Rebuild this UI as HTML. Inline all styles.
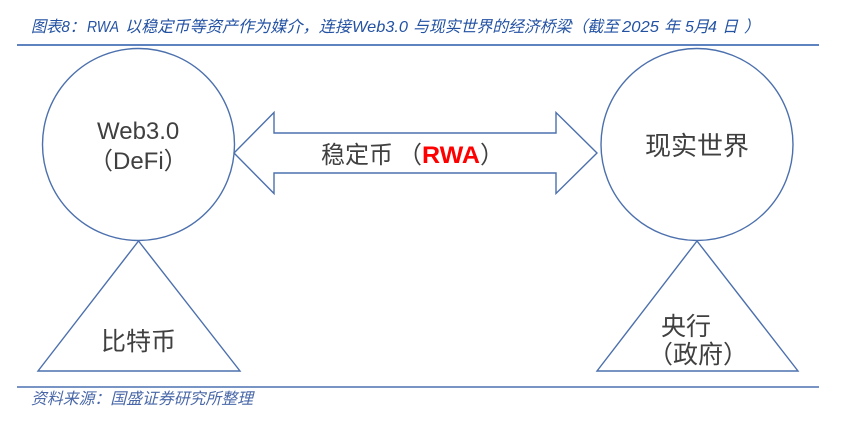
<!DOCTYPE html>
<html>
<head>
<meta charset="utf-8">
<style>
  html,body{margin:0;padding:0;background:#fff;}
  svg{display:block;}
  .hd{font-family:"Liberation Sans","Noto Sans CJK SC",sans-serif;font-style:italic;font-size:16px;fill:#2352a3;}
  .ft{font-family:"Liberation Sans","Noto Sans CJK SC",sans-serif;font-style:italic;font-size:16px;fill:#4a68a8;}
  .dg{font-family:"Liberation Sans","Noto Sans CJK SC",sans-serif;font-size:24px;fill:#404040;}
</style>
</head>
<body>
<svg width="865" height="423" viewBox="0 0 865 423" xmlns="http://www.w3.org/2000/svg">
  <rect width="865" height="423" fill="#fff"/>

  <!-- Header -->
  <text class="hd" x="31" y="32" textLength="54" lengthAdjust="spacingAndGlyphs">图表8：</text>
  <text class="hd" x="87" y="32" textLength="32" lengthAdjust="spacingAndGlyphs">RWA</text>
  <text class="hd" x="125" y="32" textLength="226" lengthAdjust="spacingAndGlyphs">以稳定币等资产作为媒介，连接</text>
  <text class="hd" x="352" y="32" textLength="56" lengthAdjust="spacingAndGlyphs">Web3.0</text>
  <text class="hd" x="413" y="32" textLength="206" lengthAdjust="spacingAndGlyphs">与现实世界的经济桥梁（截至</text>
  <text class="hd" x="622" y="32" textLength="37" lengthAdjust="spacingAndGlyphs">2025</text>
  <text class="hd" x="664" y="32">年</text>
  <text class="hd" x="685" y="32">5</text>
  <text class="hd" x="693" y="32">月</text>
  <text class="hd" x="708" y="32">4</text>
  <text class="hd" x="722" y="32">日</text>
  <text class="hd" x="744" y="32">）</text>
  <line x1="17" y1="45" x2="819" y2="45" stroke="#2a5aa8" stroke-width="1.5"/>

  <!-- Shapes -->
  <g fill="none" stroke="#4c70ad" stroke-width="1.4">
    <circle cx="138.5" cy="144.5" r="96"/>
    <circle cx="697" cy="144.5" r="96"/>
    <polygon points="234,153 274,112.5 274,133 556,133 556,112.5 597,153 556,193.5 556,173 274,173 274,193.5"/>
    <polygon points="138.5,241 38,371 240,371"/>
    <polygon points="697,241 597,371 798,371"/>
  </g>

  <!-- Diagram labels -->
  <text class="dg" x="97" y="139">Web3.0</text>
  <text class="dg" x="89" y="169">（DeFi）</text>
  <text class="dg" x="101" y="350" style="font-size:25px">比特币</text>
  <text class="dg" x="645" y="155" style="font-size:26px">现实世界</text>
  <text class="dg" x="661" y="335" style="font-size:25px">央行</text>
  <text class="dg" x="648" y="363" style="font-size:25px">（政府）</text>

  <text class="dg" x="321" y="163">稳定币</text>
  <text class="dg" x="398" y="163">（</text>
  <text class="dg" x="422" y="163" style="fill:#ff0000;font-weight:bold" textLength="58" lengthAdjust="spacingAndGlyphs">RWA</text>
  <text class="dg" x="480" y="163">）</text>

  <!-- Footer -->
  <line x1="17" y1="387" x2="819" y2="387" stroke="#4a70b0" stroke-width="1.5"/>
  <text class="ft" x="31" y="404" textLength="222" lengthAdjust="spacingAndGlyphs">资料来源：国盛证券研究所整理</text>
</svg>
</body>
</html>
